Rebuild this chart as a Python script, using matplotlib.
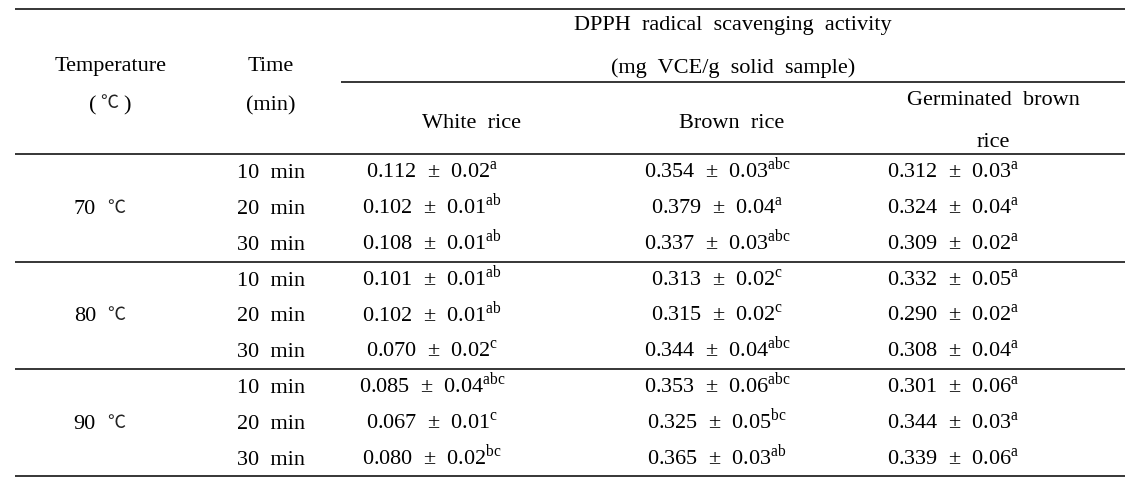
import matplotlib
matplotlib.use("Agg")
import matplotlib.pyplot as plt

plt.rcParams['font.family'] = ['Liberation Serif', 'Noto Sans CJK KR', 'DejaVu Sans']
plt.rcParams['mathtext.fontset'] = 'custom'
plt.rcParams['mathtext.rm'] = 'Liberation Serif'

#Table values
temps = ["70", "80", "90"]
temp_unit = "℃"
times = ["10  min", "20  min", "30  min"]
samples = ["White  rice", "Brown  rice", "Germinated  brown\nrice"]
white_mean = [0.112, 0.102, 0.108, 0.101, 0.102, 0.070, 0.085, 0.067, 0.080]
white_sd = [0.02, 0.01, 0.01, 0.01, 0.01, 0.02, 0.04, 0.01, 0.02]
white_sig = ["a", "ab", "ab", "ab", "ab", "c", "abc", "c", "bc"]
brown_mean = [0.354, 0.379, 0.337, 0.313, 0.315, 0.344, 0.353, 0.325, 0.365]
brown_sd = [0.03, 0.04, 0.03, 0.02, 0.02, 0.04, 0.06, 0.05, 0.03]
brown_sig = ["abc", "a", "abc", "c", "c", "abc", "abc", "bc", "ab"]
germ_mean = [0.312, 0.324, 0.309, 0.332, 0.290, 0.308, 0.301, 0.344, 0.339]
germ_sd = [0.03, 0.04, 0.02, 0.05, 0.02, 0.04, 0.06, 0.03, 0.06]
germ_sig = ["a", "a", "a", "a", "a", "a", "a", "a", "a"]

#Layout (pixel units)
fs = 16
unit_font = dict(family=['Noto Sans CJK KR', 'DejaVu Sans'], fontsize=13,
                 fontweight="light", color="#222222")
left, right = 15, 1125
col_temp, col_time = 111, 271
col_vals = [432, 717, 953]
col_heads = [472, 732, 993]
row0, step = 178, 35.85

fig = plt.figure(figsize=(11.4, 4.9), dpi=100)
ax = fig.add_axes([0, 0, 1, 1])
ax.set_xlim(0, 1140)
ax.set_ylim(490, 0)
ax.axis("off")

def hline(y, x0=left, x1=right):
    ax.plot([x0, x1], [y, y], color="black", lw=1.1, solid_capstyle="butt")

#Rules
hline(9)
hline(82, 341)
hline(154)
hline(262)
hline(369)
hline(476)

#Header
ax.text(col_temp, 71, "Temperature", ha="center", va="baseline", fontsize=fs)
ax.text(col_temp - 18, 110, "(", ha="center", va="baseline", fontsize=fs)
ax.text(col_temp + 16, 110, ")", ha="center", va="baseline", fontsize=fs)
ax.text(col_temp - 2, 108, temp_unit, ha="center", va="baseline", **unit_font)
ax.text(col_time, 71, "Time", ha="center", va="baseline", fontsize=fs)
ax.text(col_time, 110, "(min)", ha="center", va="baseline", fontsize=fs)
ax.text(733, 30, "DPPH  radical  scavenging  activity", ha="center", va="baseline", fontsize=fs)
ax.text(733, 73, "(mg  VCE/g  solid  sample)", ha="center", va="baseline", fontsize=fs)
for name, x in zip(samples, col_heads):
    lines = name.split("\n")
    if len(lines) == 1:
        ax.text(x, 128, lines[0], ha="center", va="baseline", fontsize=fs)
    else:
        ax.text(x, 105, lines[0], ha="center", va="baseline", fontsize=fs)
        ax.text(x, 147, lines[1], ha="center", va="baseline", fontsize=fs)

#Body
series = [(white_mean, white_sd, white_sig),
          (brown_mean, brown_sd, brown_sig),
          (germ_mean, germ_sd, germ_sig)]
for i in range(9):
    y = row0 + i * step
    ax.text(col_time, y, times[i % 3], ha="center", va="baseline", fontsize=fs)
    for (m, s, g), x in zip(series, col_vals):
        label = "%.3f  ±  %.2f$^{\\mathrm{%s}}$" % (m[i], s[i], g[i])
        ax.text(x, y, label, ha="center", va="baseline", fontsize=fs)
for j, t in enumerate(temps):
    y = row0 + (3 * j + 1) * step
    ax.text(col_temp - 15, y, t, ha="right", va="baseline", fontsize=fs)
    ax.text(col_temp - 4, y - 1, temp_unit, ha="left", va="baseline", **unit_font)

fig.savefig("out.png", dpi=100)
